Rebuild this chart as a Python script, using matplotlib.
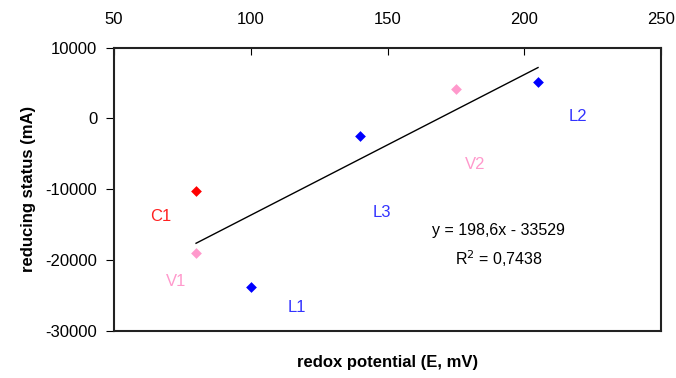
import matplotlib
matplotlib.use("Agg")
import matplotlib.pyplot as plt
import numpy as np

plt.rcParams['font.family'] = ['Liberation Sans', 'DejaVu Sans']
plt.rcParams['axes.unicode_minus'] = False

names = ["C1", "V1", "L1", "L3", "V2", "L2"]
redox = [80, 80, 100, 140, 175, 205]
reducing = [-10200, -19000, -23800, -2500, 4100, 5100]
colors = ["#FF0000", "#FF99CC", "#0000FF", "#0000FF", "#FF99CC", "#0000FF"]
label_colors = ["#FF2020", "#FF99CC", "#3333FF", "#3333FF", "#FF99CC", "#3333FF"]
label_pos = [(67, -13900), (72.7, -23100), (116.7, -26700), (148, -13300), (182, -6550), (219.5, 300)]
x_ticks = [50, 100, 150, 200, 250]
y_ticks = [-30000, -20000, -10000, 0, 10000]
slope, intercept = 198.6, -33529

fig = plt.figure(figsize=(6.76, 3.78), dpi=100)
ax = fig.add_axes([0.1686, 0.125, 0.978 - 0.1686, 0.874 - 0.125])

for x, y, c in zip(redox, reducing, colors):
    ax.scatter([x], [y], marker='D', s=30, color=c, zorder=3, linewidths=0)

xl = np.array([min(redox), max(redox)])
ax.plot(xl, slope * xl + intercept, color='black', lw=1, zorder=2)

for n, (lx, ly), c in zip(names, label_pos, label_colors):
    ax.text(lx, ly, n, color=c, fontsize=12, ha='center', va='center')

ax.text(190.6, -15840, "y = 198,6x - 33529", fontsize=11.5, ha='center', va='center')
ax.text(190.6, -19840, "R$^2$ = 0,7438", fontsize=11.5, ha='center', va='center')

ax.set_xlim(50, 250)
ax.set_ylim(-30000, 10000)
ax.set_xticks(x_ticks)
ax.set_yticks(y_ticks)
ax.xaxis.tick_top()
ax.tick_params(axis='x', direction='in', length=5, pad=15, labelsize=12, top=True, bottom=False)
ax.tick_params(axis='y', direction='out', length=6, pad=6, labelsize=12, right=False)
for s in ax.spines.values():
    s.set_linewidth(1.5)
    s.set_color('#222222')

ax.set_ylabel("reducing status (mA)", fontsize=12, fontweight='bold', labelpad=7)
fig.text((0.1686 + 0.978) / 2, 1 - 363 / 378, "redox potential (E, mV)", fontsize=12,
         fontweight='bold', ha='center', va='center')

fig.savefig("out.png", dpi=100)
